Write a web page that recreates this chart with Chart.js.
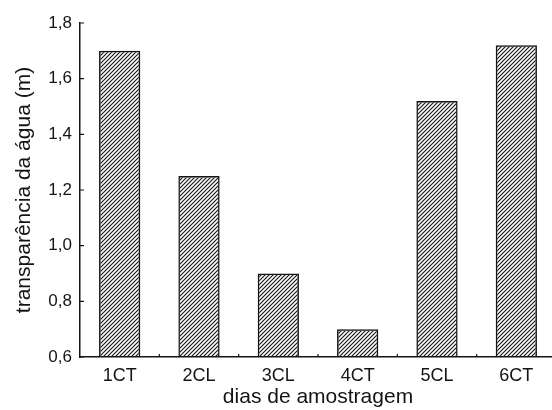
<!DOCTYPE html>
<html>
<head>
<meta charset="utf-8">
<script src="https://cdn.jsdelivr.net/npm/chart.js@4"></script>
<style>
  html, body { margin: 0; padding: 0; background: #fff; overflow: hidden; }
  #wrap { width: 558px; height: 410px; }
</style>
</head>
<body>
<div id="wrap"><canvas id="transparencyChart" width="558" height="410"></canvas></div>
<script>
// sampling days and water transparency (m)
const days = ['1CT', '2CL', '3CL', '4CT', '5CL', '6CT'];
const transparency = [1.70, 1.25, 0.90, 0.70, 1.52, 1.72];
const yMin = 0.6, yMax = 1.8, yStep = 0.2;
const xTitle = 'dias de amostragem';
const yTitle = 'transparência da água (m)';

const ink = '#141414';
const fontFamily = '"Liberation Sans", Arial, sans-serif';

// diagonal hatch fill
function makeHatch() {
    const s = 4;
    const c = document.createElement('canvas');
    c.width = s; c.height = s;
    const g = c.getContext('2d');
    g.strokeStyle = '#1a1a1a';
    g.lineWidth = 1.2;
    g.beginPath();
    g.moveTo(-1, s + 1); g.lineTo(s + 1, -1);
    g.moveTo(-1, 1); g.lineTo(1, -1);
    g.moveTo(s - 1, s + 1); g.lineTo(s + 1, s - 1);
    g.stroke();
    return g.createPattern(c, 'repeat');
}

// short tick marks pointing into the plot
const innerTicks = {
    id: 'innerTicks',
    afterDraw(chart) {
        const { ctx, chartArea, scales: { x, y } } = chart;
        ctx.save();
        ctx.strokeStyle = ink;
        ctx.lineWidth = 1.2;
        ctx.beginPath();
        y.ticks.forEach(t => {
            const py = y.getPixelForValue(t.value);
            ctx.moveTo(chartArea.left, py);
            ctx.lineTo(chartArea.left + 4, py);
        });
        for (let i = 1; i < days.length; i++) {
            const px = (x.getPixelForValue(i - 1) + x.getPixelForValue(i)) / 2;
            ctx.moveTo(px, chartArea.bottom);
            ctx.lineTo(px, chartArea.bottom - 3);
        }
        ctx.stroke();
        ctx.restore();
    }
};

const ctx = document.getElementById('transparencyChart').getContext('2d');
new Chart(ctx, {
    type: 'bar',
    data: {
        labels: days,
        datasets: [{
            data: transparency,
            backgroundColor: makeHatch(),
            borderColor: ink,
            borderWidth: 1.5,
            borderSkipped: 'bottom',
            barPercentage: 0.52,
            categoryPercentage: 1.0
        }]
    },
    options: {
        responsive: false,
        animation: false,
        layout: { padding: { top: 23, right: 2, left: 0, bottom: 0 } },
        plugins: { legend: { display: false }, tooltip: { enabled: false } },
        scales: {
            x: {
                grid: { display: true, drawOnChartArea: false, drawTicks: false },
                border: { display: true, color: ink, width: 1.5 },
                ticks: { color: ink, padding: 8, font: { family: fontFamily, size: 18 } },
                title: { display: true, text: xTitle, color: ink, padding: { top: 0, bottom: 0 },
                         font: { family: fontFamily, size: 21 } },
                afterFit(scale) { scale.height = 53; }
            },
            y: {
                min: yMin, max: yMax,
                grid: { display: true, drawOnChartArea: false, drawTicks: false },
                border: { display: true, color: ink, width: 1.5 },
                ticks: {
                    stepSize: yStep, color: ink, padding: 8,
                    font: { family: fontFamily, size: 17 },
                    callback: v => v.toFixed(1).replace('.', ',')
                },
                title: { display: true, text: yTitle, color: ink, padding: { top: 12, bottom: 0 },
                         font: { family: fontFamily, size: 21 } },
                afterFit(scale) { scale.width = 80; }
            }
        }
    },
    plugins: [innerTicks]
});
</script>
</body>
</html>
